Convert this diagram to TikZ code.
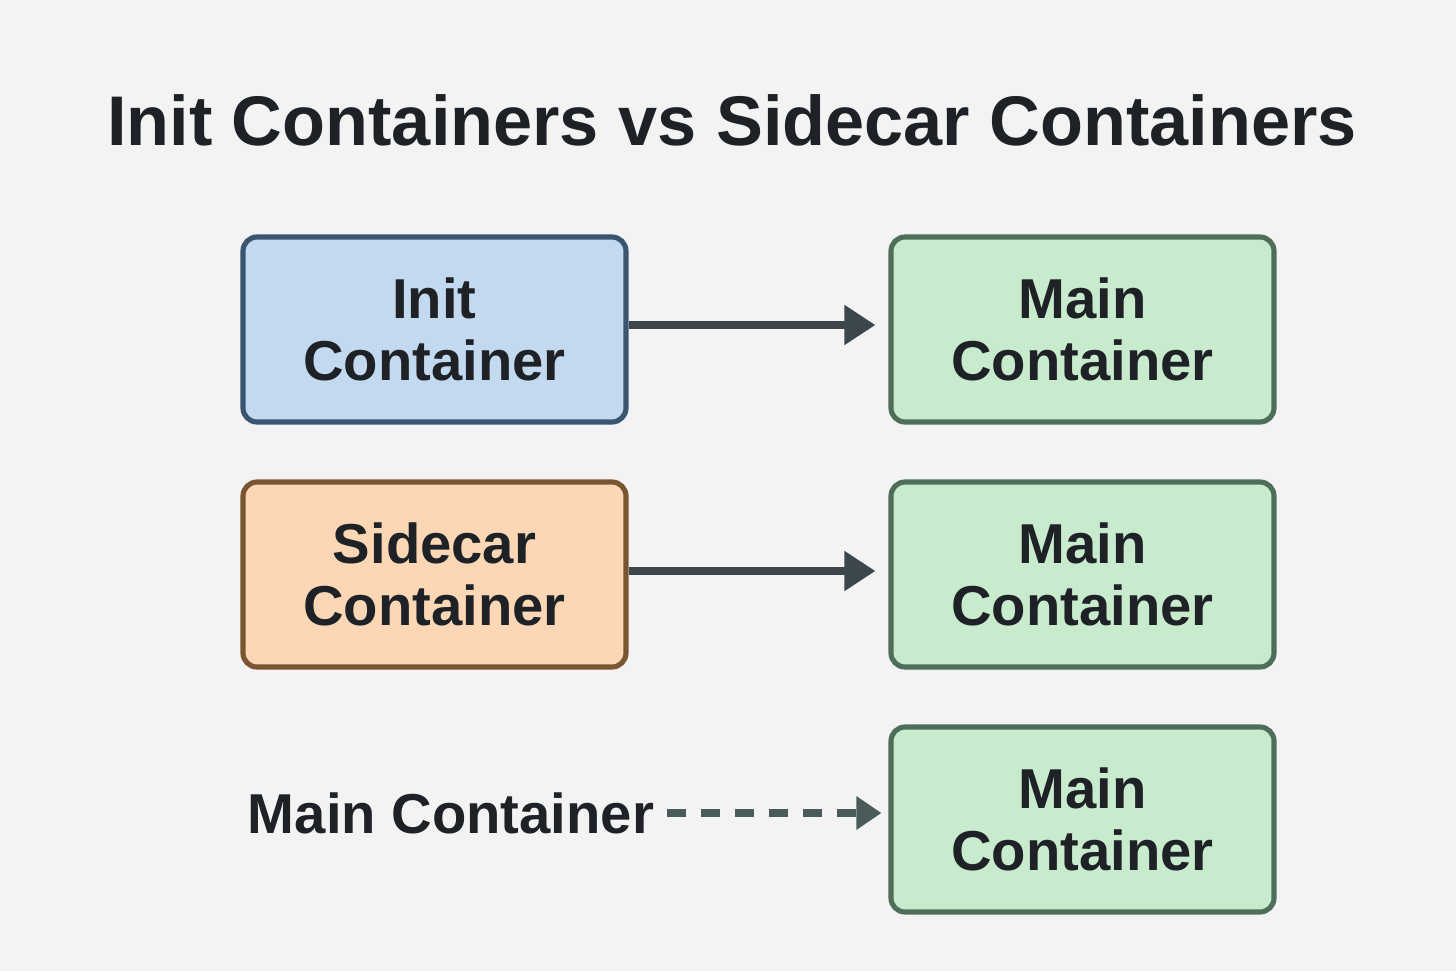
\documentclass[tikz,border=0pt]{standalone}
\usepackage{fontspec}
\setmainfont{Liberation Sans}
\usetikzlibrary{arrows.meta, positioning, calc}
\definecolor{bgcol}{HTML}{F3F3F3}
\definecolor{txtcol}{HTML}{1E2226}
\definecolor{initfill}{HTML}{C3D9EF}
\definecolor{initdraw}{HTML}{3A5570}
\definecolor{sidefill}{HTML}{FBD7B5}
\definecolor{sidedraw}{HTML}{7A5532}
\definecolor{mainfill}{HTML}{C8EBCD}
\definecolor{maindraw}{HTML}{4E6E5A}
\definecolor{arrcol}{HTML}{3C474D}
\definecolor{dashcol}{HTML}{4A5C5A}
\tikzset{
    box/.style={draw, rounded corners=0.28cm, line width=2.9pt, minimum width=7.66cm,
        minimum height=3.7cm, align=center, text=txtcol,
        font=\fontsize{32}{35}\selectfont\bfseries},
    initbox/.style={box, fill=initfill, draw=initdraw},
    sidebox/.style={box, fill=sidefill, draw=sidedraw},
    mainbox/.style={box, fill=mainfill, draw=maindraw},
    flow/.style={-{Triangle[length=0.62cm, width=0.76cm]}, line width=4.6pt, arrcol,
        shorten >=0.26cm},
    later/.style={-{Triangle[length=0.5cm, width=0.64cm]}, line width=4pt, dashcol,
        dash pattern=on 0.38cm off 0.3cm, shorten >=0.14cm},
    lbl/.style={text=txtcol, font=\fontsize{32}{35}\selectfont\bfseries, inner sep=0.26cm},
}
\begin{document}
\begin{tikzpicture}
        % Fonas
        \fill[bgcol] (0,0) rectangle (29.12,-19.42);
        \useasboundingbox (0,0) rectangle (29.12,-19.42);

        % Antraste
        \node[text=txtcol, font=\fontsize{40}{44}\selectfont\bfseries, anchor=base] (title)
            at (14.64,-2.9) {Init Containers vs Sidecar Containers};

        % Konteineriai
        \node[initbox] (init) at (8.69,-6.59) {Init\\Container};
        \node[mainbox] (main1) at (21.65,-6.59) {Main\\Container};

        \node[sidebox] (side) at (8.69,-11.49) {Sidecar\\Container};
        \node[mainbox] (main2) at (21.65,-11.49) {Main\\Container};

        \node[lbl] (mlbl) at (9.02,-16.26) {Main Container};
        \node[mainbox] (main3) at (21.65,-16.39) {Main\\Container};

        % Rodykles
        \draw[flow] ([yshift=0.09cm]init.east) -- ([yshift=0.09cm]init.east -| main1.west);
        \draw[flow] ([yshift=0.07cm]side.east) -- ([yshift=0.07cm]side.east -| main2.west);
        \draw[later] (mlbl) -- (mlbl -| main3.west);
    \end{tikzpicture}
\end{document}
